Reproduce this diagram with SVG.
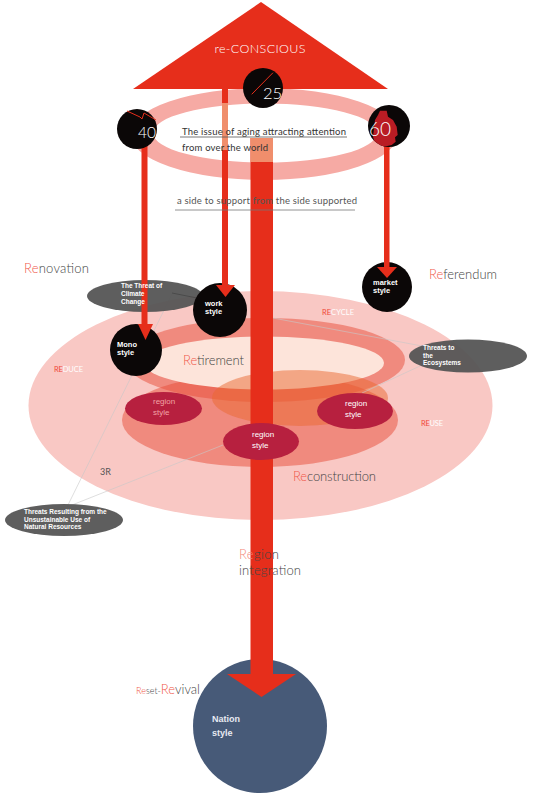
<svg xmlns="http://www.w3.org/2000/svg" width="537" height="795" viewBox="0 0 537 795">
<style>
.thin{font-family:Lato,"Liberation Sans",sans-serif;font-weight:300;fill:#444}
.re{fill:#f0584a}
.lbl{font-family:Lato,"Liberation Sans",sans-serif;font-weight:300;font-size:13px;fill:#444}
.bw{font-family:"Liberation Sans",Arial,sans-serif;font-weight:bold;fill:#fff}
.rg{font-family:"Liberation Sans",Arial,sans-serif;font-size:8px;fill:#fff}
.gr{fill:#555;opacity:0.95}
.blk{fill:#0b0707}
.crim{fill:#b7203f}
.red{fill:#e62e1b}
.ln{stroke:#c8c8c8;stroke-width:0.6;fill:none}
.small{font-family:Lato,"Liberation Sans",sans-serif;font-size:7.5px;fill:#fff}
</style>
<defs>
<clipPath id="c60"><circle cx="389" cy="126" r="21"/></clipPath>
</defs>
<rect width="537" height="795" fill="#fff"/>

<g id="zones">
<ellipse id="zone-reduce" cx="260.5" cy="405.5" rx="232" ry="114.5" fill="#f9c8c4"/>
<ellipse id="zone-recycle" cx="265" cy="360" rx="140" ry="42" fill="#f08a7e"/>
<ellipse id="zone-reuse" cx="260" cy="420" rx="138" ry="47" fill="#e74c38" fill-opacity="0.5"/>
<ellipse id="zone-retirement" cx="264" cy="363" rx="120" ry="26.5" fill="#fde4da"/>
<ellipse id="zone-orange" cx="300" cy="398" rx="88" ry="28" fill="#e96730" fill-opacity="0.5"/>
</g>

<g id="connectors">
<line class="ln" x1="172" y1="294" x2="67" y2="507"/>
<line class="ln" x1="67" y1="507" x2="223" y2="445"/>
<line class="ln" x1="273" y1="318" x2="422" y2="346"/>
<line class="ln" x1="420" y1="366" x2="362" y2="393"/>
</g>

<g id="threat-climate">
<ellipse class="gr" cx="145" cy="296" rx="58" ry="16"/>
<line x1="172" y1="293" x2="197" y2="298" stroke="#3c3c3c" stroke-width="0.6"/>
</g>
<g id="threat-eco">
<ellipse class="gr" cx="468" cy="356" rx="59" ry="16.5"/>
</g>
<g id="threat-resources">
<ellipse class="gr" cx="64" cy="520" rx="59" ry="16"/>
</g>

<g id="nation">
<circle cx="260" cy="726" r="67" fill="#475a78"/>
</g>

<g id="aging-ring">
<path d="M130,134 a134,46 0 1,0 268,0 a134,46 0 1,0 -268,0 Z M153,133 a112,29.5 0 1,0 224,0 a112,29.5 0 1,0 -224,0 Z" fill="#f6aaa4" fill-rule="evenodd"/>
</g>

<g id="mono"><circle class="blk" cx="136" cy="350" r="26"/></g>
<g id="work"><circle class="blk" cx="220" cy="310" r="27"/></g>
<g id="market"><circle class="blk" cx="387" cy="287" r="25"/></g>

<g id="arrows">
<rect class="red" x="141.5" y="146" width="6" height="180"/>
<polygon class="red" points="138,324 153,324 145.5,340"/>
<rect class="red" x="222" y="85" width="6" height="202"/>
<polygon class="red" points="216,285 235,285 225.5,297"/>
<rect class="red" x="384" y="145" width="5.5" height="124"/>
<polygon class="red" points="377,267 397,267 387,278"/>
<rect class="red" x="250.5" y="138" width="22.5" height="538"/>
<polygon class="red" points="227,674 296,674 261.5,697"/>
</g>

<g id="reconscious">
<polygon class="red" points="261,2 133,89 388,89"/>
<text x="260" y="53" text-anchor="middle" font-family="Lato,'Liberation Sans',sans-serif" font-weight="300" font-size="12.5" fill="#fff" textLength="91">re-CONSCIOUS</text>
</g>

<g id="overlays">
<rect x="222" y="103" width="6" height="47" fill="#f08e6c"/>
<rect x="250.5" y="138" width="22.5" height="24" fill="#f08e6c"/>
</g>

<g id="region-left"><ellipse class="crim" cx="163.5" cy="408.5" rx="38.5" ry="16.5"/>
<text class="rg" x="153" y="404" fill="#f2a3a5" style="fill:#f2a3a5">region</text>
<text class="rg" x="153" y="415" style="fill:#f2a3a5">style</text></g>
<g id="region-right"><ellipse class="crim" cx="355" cy="411" rx="38" ry="18"/>
<text class="rg" x="345" y="406">region</text>
<text class="rg" x="345" y="417">style</text></g>
<g id="region-center"><ellipse class="crim" cx="261" cy="441.5" rx="38" ry="18.5"/>
<text class="rg" x="252" y="437">region</text>
<text class="rg" x="252" y="448">style</text></g>

<g id="c25">
<circle class="blk" cx="263" cy="88" r="20"/>
<line x1="273" y1="72.7" x2="251.7" y2="94.3" stroke="#e62e1b" stroke-width="1"/>
<text x="263" y="99" font-family="Lato,'Liberation Sans',sans-serif" font-weight="300" font-size="16.5" fill="#fff">25</text>
</g>
<g id="c40">
<circle class="blk" cx="137" cy="129" r="20"/>
<polyline points="127,111 140,117 142,119 144,113 156,120" fill="none" stroke="#e62e1b" stroke-width="1"/>
<text x="138" y="137.5" font-family="Lato,'Liberation Sans',sans-serif" font-weight="300" font-size="15.5" fill="#fff">40</text>
</g>
<g id="c60">
<circle class="blk" cx="389" cy="126" r="21"/>
<polygon clip-path="url(#c60)" points="380,110.7 386.7,110.7 388,116.7 393,120 396.7,126.7 397.7,135 395,137.3 395.7,141.7 391.7,145 383,147 375,143.3 373,136.7 375,120 378,115" fill="#b91c24"/>
<text x="369" y="135.5" font-family="Lato,'Liberation Sans',sans-serif" font-weight="300" font-size="19" fill="#fff">60</text>
</g>

<g id="texts">
<text x="182" y="134.5" font-family="Lato,'Liberation Sans',sans-serif" font-size="9.5" fill="#333" textLength="164">The issue of aging attracting attention</text>
<line x1="180" y1="137" x2="347" y2="137" stroke="#555" stroke-width="0.8"/>
<text x="182" y="151" font-family="Lato,'Liberation Sans',sans-serif" font-size="9.5" fill="#333" textLength="86">from over the world</text>
<text x="177" y="204" font-family="Lato,'Liberation Sans',sans-serif" font-size="9.5" fill="#555" textLength="180">a side to support from the side supported</text>
<line x1="175" y1="210" x2="355" y2="210" stroke="#777" stroke-width="0.8"/>

<text class="lbl" x="24" y="273" textLength="65"><tspan class="re">Re</tspan>novation</text>
<text class="lbl" x="429" y="279" textLength="68"><tspan class="re">Re</tspan>ferendum</text>
<text class="lbl" x="183" y="365" textLength="61"><tspan class="re">Re</tspan>tirement</text>
<text class="lbl" x="293" y="481" textLength="83"><tspan class="re">Re</tspan>construction</text>
<text class="lbl" x="239" y="559" textLength="40"><tspan style="fill:#f4877a">Re</tspan>gion</text>
<text class="lbl" x="239" y="575" textLength="62">integration</text>
<text class="lbl" x="136" y="694"><tspan font-size="9" class="re">Re</tspan><tspan font-size="9">set</tspan><tspan font-size="9">-</tspan><tspan class="re">Re</tspan>vival</text>

<text class="small" x="322" y="315" textLength="32"><tspan style="fill:#f0483a">RE</tspan>CYCLE</text>
<text class="small" x="54" y="372" textLength="29"><tspan style="fill:#f0483a">RE</tspan>DUCE</text>
<text class="small" x="421" y="426" textLength="22"><tspan style="fill:#f0483a">RE</tspan>USE</text>
<text x="100" y="475" font-family="Lato,'Liberation Sans',sans-serif" font-size="9" fill="#555">3R</text>

<text class="bw" font-size="6.5" x="121" y="288">The Threat of</text>
<text class="bw" font-size="6.5" x="121" y="296">Climate</text>
<text class="bw" font-size="6.5" x="121" y="303.5">Change</text>
<text class="bw" font-size="6.5" x="423" y="350">Threats to</text>
<text class="bw" font-size="6.5" x="423" y="357.5">the</text>
<text class="bw" font-size="6.5" x="423" y="365">Ecosystems</text>
<text class="bw" font-size="6.5" x="24" y="514">Threats Resulting from the</text>
<text class="bw" font-size="6.5" x="24" y="521.5">Unsustainable Use of</text>
<text class="bw" font-size="6.5" x="24" y="528.5">Natural Resources</text>

<text class="bw" font-size="7.5" x="117" y="347">Mono</text>
<text class="bw" font-size="7.5" x="117" y="354.5">style</text>
<text class="bw" font-size="7.5" x="205" y="306">work</text>
<text class="bw" font-size="7.5" x="205" y="314">style</text>
<text class="bw" font-size="7.5" x="373" y="285">market</text>
<text class="bw" font-size="7.5" x="373" y="293">style</text>
<text class="bw" font-size="9" x="212" y="722" style="fill:#e8eaf2">Nation</text>
<text class="bw" font-size="9" x="212" y="736" style="fill:#e8eaf2">style</text>
</g>
</svg>
